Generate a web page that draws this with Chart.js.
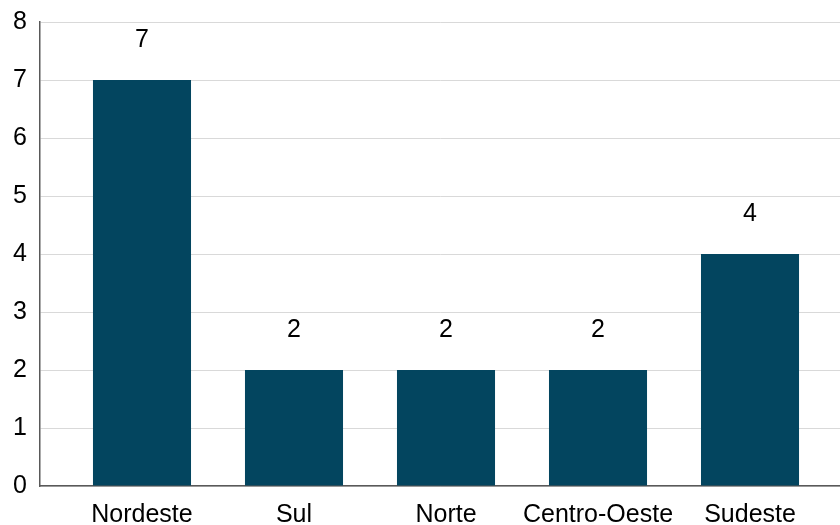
<!DOCTYPE html>
<html>
<head>
<meta charset="utf-8">
<script src="https://cdn.jsdelivr.net/npm/chart.js@4"></script>
<style>
  html, body { margin: 0; padding: 0; background: #fff; }
  #wrap { width: 840px; height: 525px; }
</style>
</head>
<body>
<div id="wrap"><canvas id="myChart"></canvas></div>
<script>
const regions = ['Nordeste', 'Sul', 'Norte', 'Centro-Oeste', 'Sudeste'];
const counts = [7, 2, 2, 2, 4];
const yTicks = [0, 1, 2, 3, 4, 5, 6, 7, 8];

const barColor = '#03455f';
const fontFamily = '"Liberation Sans", Arial, sans-serif';

// value written above each bar
const valueLabels = {
  id: 'valueLabels',
  afterDatasetsDraw(chart) {
    const c = chart.ctx;
    const meta = chart.getDatasetMeta(0);
    c.save();
    c.font = '25px ' + fontFamily;
    c.fillStyle = '#000';
    c.textAlign = 'center';
    c.textBaseline = 'middle';
    meta.data.forEach((bar, i) => {
      c.fillText(String(counts[i]), bar.x, bar.y - 40);
    });
    c.restore();
  }
};

const ctx = document.getElementById('myChart');
new Chart(ctx, {
  type: 'bar',
  data: {
    datasets: [{
      data: counts.map((v, i) => ({ x: i, y: v })),
      backgroundColor: barColor,
      borderWidth: 0,
      categoryPercentage: 1,
      barPercentage: 0.645
    }]
  },
  options: {
    responsive: true,
    maintainAspectRatio: false,
    animation: false,
    layout: { padding: 0 },
    plugins: { legend: { display: false }, tooltip: { enabled: false } },
    scales: {
      x: {
        type: 'linear',
        offset: false,
        min: -0.671,
        max: 4.592,
        afterBuildTicks: (axis) => { axis.ticks = regions.map((_, i) => ({ value: i })); },
        afterFit: (axis) => { axis.height = 39; },
        grid: { display: false, offset: false },
        border: { display: true, color: '#595959', width: 1.5 },
        ticks: {
          color: '#000',
          font: { family: fontFamily, size: 25 },
          padding: 6,
          maxRotation: 0,
          autoSkip: false,
          callback: (v) => regions[v]
        }
      },
      y: {
        min: 0,
        max: 8,
        afterBuildTicks: (axis) => { axis.ticks = yTicks.map(v => ({ value: v })); },
        afterFit: (axis) => { axis.width = 40; axis.paddingTop = 22; },
        grid: { color: '#d9d9d9', lineWidth: 1, drawTicks: false },
        border: { display: true, color: '#595959', width: 1.5 },
        ticks: {
          color: '#000',
          font: { family: fontFamily, size: 25, lineHeight: 1 },
          padding: 13
        }
      }
    }
  },
  plugins: [valueLabels]
});
</script>
</body>
</html>
